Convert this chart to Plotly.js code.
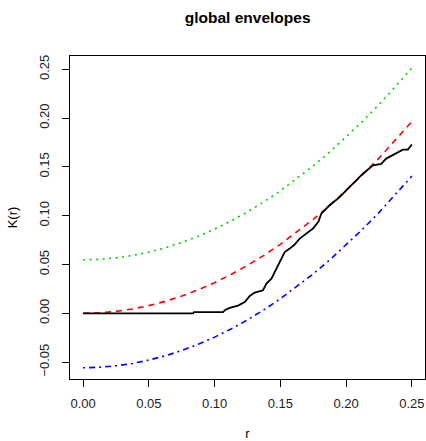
<!DOCTYPE html>
<html>
<head>
<meta charset="utf-8">
<script src="https://cdn.plot.ly/plotly-3.0.1.min.js"></script>
<style>html,body{margin:0;padding:0;background:#fff;}#chart{width:426px;height:441px;}</style>
</head>
<body>
<div id="chart"></div>
<script>
// smooth curves sampled along r
var rGrid = [0, 0.0125, 0.025, 0.0375, 0.05, 0.0625, 0.075, 0.0875, 0.1, 0.1125, 0.125,
             0.1375, 0.15, 0.1625, 0.175, 0.1875, 0.2, 0.2125, 0.225, 0.2375, 0.25];
var theoK = [0, 0.0005, 0.0020, 0.0044, 0.0079, 0.0123, 0.0177, 0.0241, 0.0314, 0.0398, 0.0491,
             0.0594, 0.0707, 0.0830, 0.0962, 0.1104, 0.1257, 0.1419, 0.1590, 0.1772, 0.1964];
var hiK = [0.0548, 0.0553, 0.0568, 0.0592, 0.0627, 0.0671, 0.0725, 0.0789, 0.0862, 0.0946, 0.1039,
           0.1142, 0.1255, 0.1378, 0.1510, 0.1652, 0.1805, 0.1967, 0.2138, 0.2320, 0.2512];
var loK = [-0.0558, -0.0553, -0.0538, -0.0514, -0.0479, -0.0435, -0.0381, -0.0317, -0.0244, -0.0160, -0.0067,
           0.0036, 0.0149, 0.0272, 0.0404, 0.0546, 0.0699, 0.0861, 0.1032, 0.1214, 0.1406];
// observed K (staircase)
var rObs = [0, 0.0836, 0.0843, 0.1064, 0.1080, 0.1115, 0.1178, 0.1229, 0.1267, 0.1305, 0.1368,
            0.1394, 0.1432, 0.1457, 0.1482, 0.1508, 0.1533, 0.1571, 0.1603, 0.1647, 0.1748,
            0.1790, 0.1811, 0.1874, 0.1951, 0.2001, 0.2052, 0.2128, 0.2204, 0.2267, 0.2305,
            0.2381, 0.2432, 0.2470, 0.2495, 0.25];
var kObs = [0, 0, 0.0013, 0.0013, 0.0035, 0.0055, 0.0079, 0.0116, 0.0177, 0.0212, 0.0236,
            0.0304, 0.0355, 0.0423, 0.0490, 0.0577, 0.0628, 0.0663, 0.0697, 0.0765, 0.0868,
            0.0940, 0.1020, 0.1107, 0.1190, 0.1260, 0.1329, 0.1430, 0.1516, 0.1530, 0.1585,
            0.1636, 0.1677, 0.1677, 0.1728, 0.1730];
var xTicks = [0, 0.05, 0.10, 0.15, 0.20, 0.25];
var xTickText = ["0.00", "0.05", "0.10", "0.15", "0.20", "0.25"];
var yTicks = [-0.05, 0, 0.05, 0.10, 0.15, 0.20, 0.25];
var yTickText = ["\u22120.05", "0.00", "0.05", "0.10", "0.15", "0.20", "0.25"];

var font = "Liberation Sans, Arial, Helvetica, sans-serif";
var traces = [
  {x: rGrid, y: hiK, mode: "lines", line: {color: "#00CD00", width: 1.6, dash: "2px,4.5px"}, hoverinfo: "skip"},
  {x: rGrid, y: loK, mode: "lines", line: {color: "#0000FF", width: 1.6, dash: "2px,4px,6px,4px"}, hoverinfo: "skip"},
  {x: rGrid, y: theoK, mode: "lines", line: {color: "#FF0000", width: 1.6, dash: "6px,5px"}, hoverinfo: "skip"},
  {x: rObs, y: kObs, mode: "lines", line: {color: "#000000", width: 1.8}, hoverinfo: "skip"}
];
var axisCommon = {
  showgrid: false, zeroline: false, showline: true, mirror: true,
  linecolor: "#000", linewidth: 1, ticks: "outside", ticklen: 7, tickwidth: 1, tickcolor: "#000",
  tickfont: {family: font, size: 13, color: "#222"}, tickmode: "array", automargin: false
};
var layout = {
  width: 426, height: 441,
  margin: {l: 70, r: 1, t: 56, b: 62},
  paper_bgcolor: "#fff", plot_bgcolor: "#fff",
  showlegend: false,
  title: {text: "<b>global envelopes</b>", font: {family: font, size: 15.5, color: "#000"},
          x: 0.5814, xanchor: "center", y: 0.961, yanchor: "middle"},
  xaxis: Object.assign({}, axisCommon, {
    range: [-0.01, 0.26], tickvals: xTicks, ticktext: xTickText, ticklabelstandoff: 5,
    title: {text: "r", font: {family: font, size: 13, color: "#000"}, standoff: 22}
  }),
  yaxis: Object.assign({}, axisCommon, {
    range: [-0.0673, 0.2636], tickvals: yTicks, ticktext: yTickText, tickangle: -90, ticklabelstandoff: 8,
    title: {text: "K(r)", font: {family: font, size: 13, color: "#000"}, standoff: 16}
  })
};
Plotly.newPlot("chart", traces, layout, {displayModeBar: false, staticPlot: true});
</script>
</body>
</html>
